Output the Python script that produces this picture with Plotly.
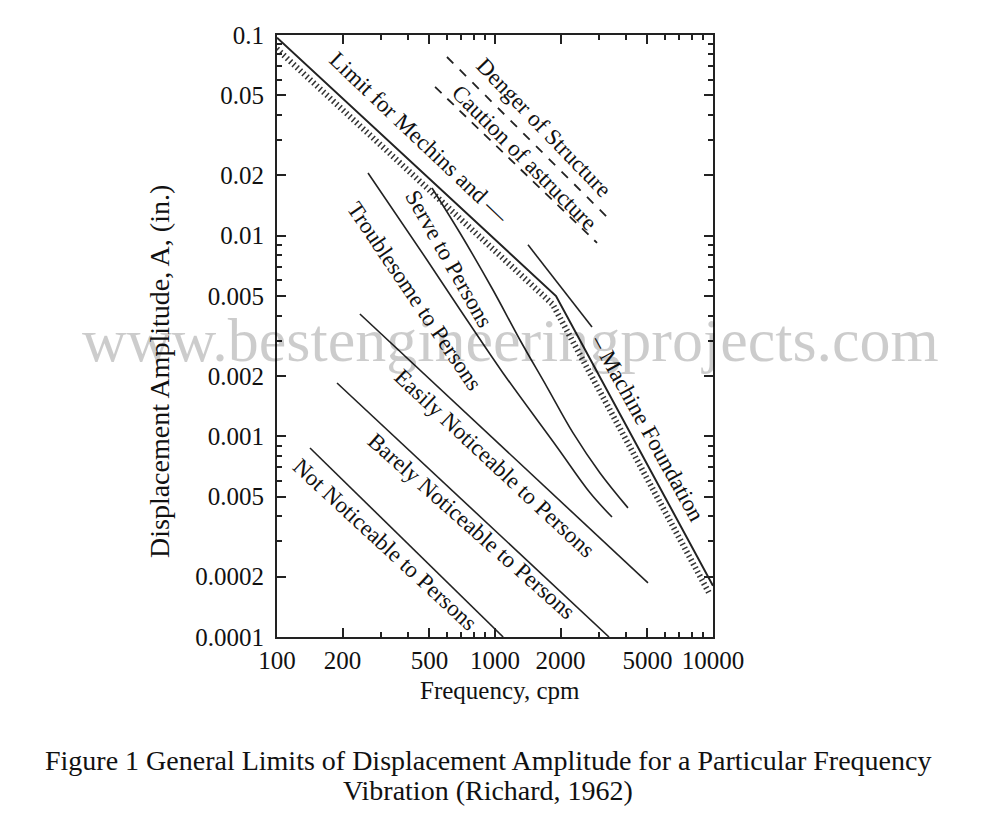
import plotly.graph_objects as go

# values: frequency (cpm) vs displacement amplitude (in.)
limit_x = [100, 1905, 10000]
limit_y = [0.097, 0.0050, 0.00018]

foundation_x = [1417, 2786]
foundation_y = [0.0090, 0.00351]

danger_x = [602, 3299]
danger_y = [0.0777, 0.01225]

caution_x = [531, 2938]
caution_y = [0.0551, 0.0092]

serve_x = [514, 691, 979, 1302, 1732, 2280, 3031, 4074]
serve_y = [0.01729, 0.01031, 0.00536, 0.00302, 0.00176, 0.00104, 0.000657, 0.000440]

trouble_x = [261.5, 487.7, 743.9, 1088, 1924, 2729, 3441]
trouble_y = [0.02053, 0.00757, 0.00380, 0.00207, 0.000885, 0.000523, 0.000396]

easily_x = [240, 5032]
easily_y = [0.00407, 0.000186]

barely_x = [188.5, 3334]
barely_y = [0.001845, 0.0001]

not_x = [141.7, 1090]
not_y = [0.000875, 0.0001]

# axis ticks (the 0.0005 tick is printed as "0.005" in the original)
x_ticks = [100, 200, 500, 1000, 2000, 5000, 10000]
x_labels = ["100", "200", "500", "1000", "2000", "5000", "10000"]
x_minor = [300, 400, 600, 700, 800, 900, 3000, 4000, 6000, 7000, 8000, 9000]
y_ticks = [0.1, 0.05, 0.02, 0.01, 0.005, 0.002, 0.001, 0.0005, 0.0002, 0.0001]
y_labels = ["0.1", "0.05", "0.02", "0.01", "0.005", "0.002", "0.001", "0.005", "0.0002", "0.0001"]
y_minor = [0.03, 0.04, 0.06, 0.07, 0.08, 0.09,
           0.003, 0.004, 0.006, 0.007, 0.008, 0.009,
           0.0003, 0.0004, 0.0006, 0.0007, 0.0008, 0.0009]

FONT = "Liberation Serif"
INK = "#222222"

# plot area in pixels of the 1000x837 page; the page body adds an 8px margin
L, R, T, B = 277, 713, 35, 637
OFF = 8
W, H = 1000 - 2 * OFF, 837 - 2 * OFF


def paper(px, py):
    return (px - L) / (R - L), (B - py) / (B - T)


fig = go.Figure()


def add_line(x, y, width=1.6, dash="solid", shape="linear"):
    fig.add_trace(go.Scatter(x=x, y=y, mode="lines", hoverinfo="skip",
                             line=dict(color=INK, width=width, dash=dash, shape=shape,
                                       smoothing=1.0)))


def add_text(text, px, py, size, angle=0, color="#111111"):
    ax, ay = paper(px, py)
    fig.add_annotation(x=ax, y=ay, xref="paper", yref="paper", text=text,
                       textangle=angle, showarrow=False,
                       xanchor="center", yanchor="middle",
                       font=dict(family=FONT, size=size, color=color))


# hatching on the lower-left side of the limit line
fig.add_trace(go.Scatter(x=[v * 0.965 for v in limit_x], y=[v * 0.91 for v in limit_y],
                         mode="lines", hoverinfo="skip",
                         line=dict(color="#333333", width=6, dash="1.5px,3px")))
add_line(limit_x, limit_y, width=2)
add_line(foundation_x, foundation_y)
add_line(danger_x, danger_y, width=1.8, dash="9px,9px")
add_line(caution_x, caution_y, width=1.8, dash="9px,8px")
add_line(serve_x, serve_y, shape="spline")
add_line(trouble_x, trouble_y, shape="spline")
add_line(easily_x, easily_y)
add_line(barely_x, barely_y)
add_line(not_x, not_y)

labels = [
    ("Limit for Mechins and —", 419, 137, 43.5),
    ("Denger of Structure", 544, 127, 46),
    ("Caution of astructure", 524, 158, 45),
    ("Serve to Persons", 449, 258, 60.5),
    ("Troublesome to Persons", 415, 296, 56),
    ("– Machine Foundation", 648, 428, 61),
    ("Easily Noticeable to Persons", 495, 463, 43),
    ("Barely Noticeable to Persons", 472, 526, 41.5),
    ("Not Noticeable to Persons", 385, 544, 42.7),
]
for text, px, py, ang in labels:
    add_text(text, px, py, 23, ang)

# watermark
add_text("www.bestengineeringprojects.com", 510, 340, 62, color="rgba(0,0,0,0.2)")

# axis titles and caption
add_text("Displacement Amplitude, A, (in.)", 160, 372, 28, -90)
add_text("Frequency, cpm", 500, 690, 25)
add_text("Figure 1 General Limits of Displacement Amplitude for a Particular Frequency",
         488, 760, 28)
add_text("Vibration (Richard, 1962)", 488, 790, 28)

axis_common = dict(showgrid=False, zeroline=False, showline=True, linecolor=INK,
                   linewidth=2, mirror="allticks", ticks="inside", ticklen=9,
                   tickwidth=1.5, tickcolor=INK,
                   tickfont=dict(family=FONT, size=25, color="#111111"))

fig.update_xaxes(type="log", range=[2, 4], tickmode="array", tickvals=x_ticks,
                 ticktext=x_labels,
                 minor=dict(tickmode="array", tickvals=x_minor, ticks="inside",
                            ticklen=5, tickcolor=INK, showgrid=False),
                 **axis_common)
fig.update_yaxes(type="log", range=[-4, -1], tickmode="array", tickvals=y_ticks,
                 ticktext=y_labels, ticklabelstandoff=6,
                 minor=dict(tickmode="array", tickvals=y_minor, ticks="inside",
                            ticklen=5, tickcolor=INK, showgrid=False),
                 **axis_common)

fig.update_layout(width=W, height=H, showlegend=False,
                  margin=dict(l=L - OFF, r=W - (R - OFF), t=T - OFF, b=H - (B - OFF)),
                  paper_bgcolor="white", plot_bgcolor="white")

fig.write_html("out.html")
